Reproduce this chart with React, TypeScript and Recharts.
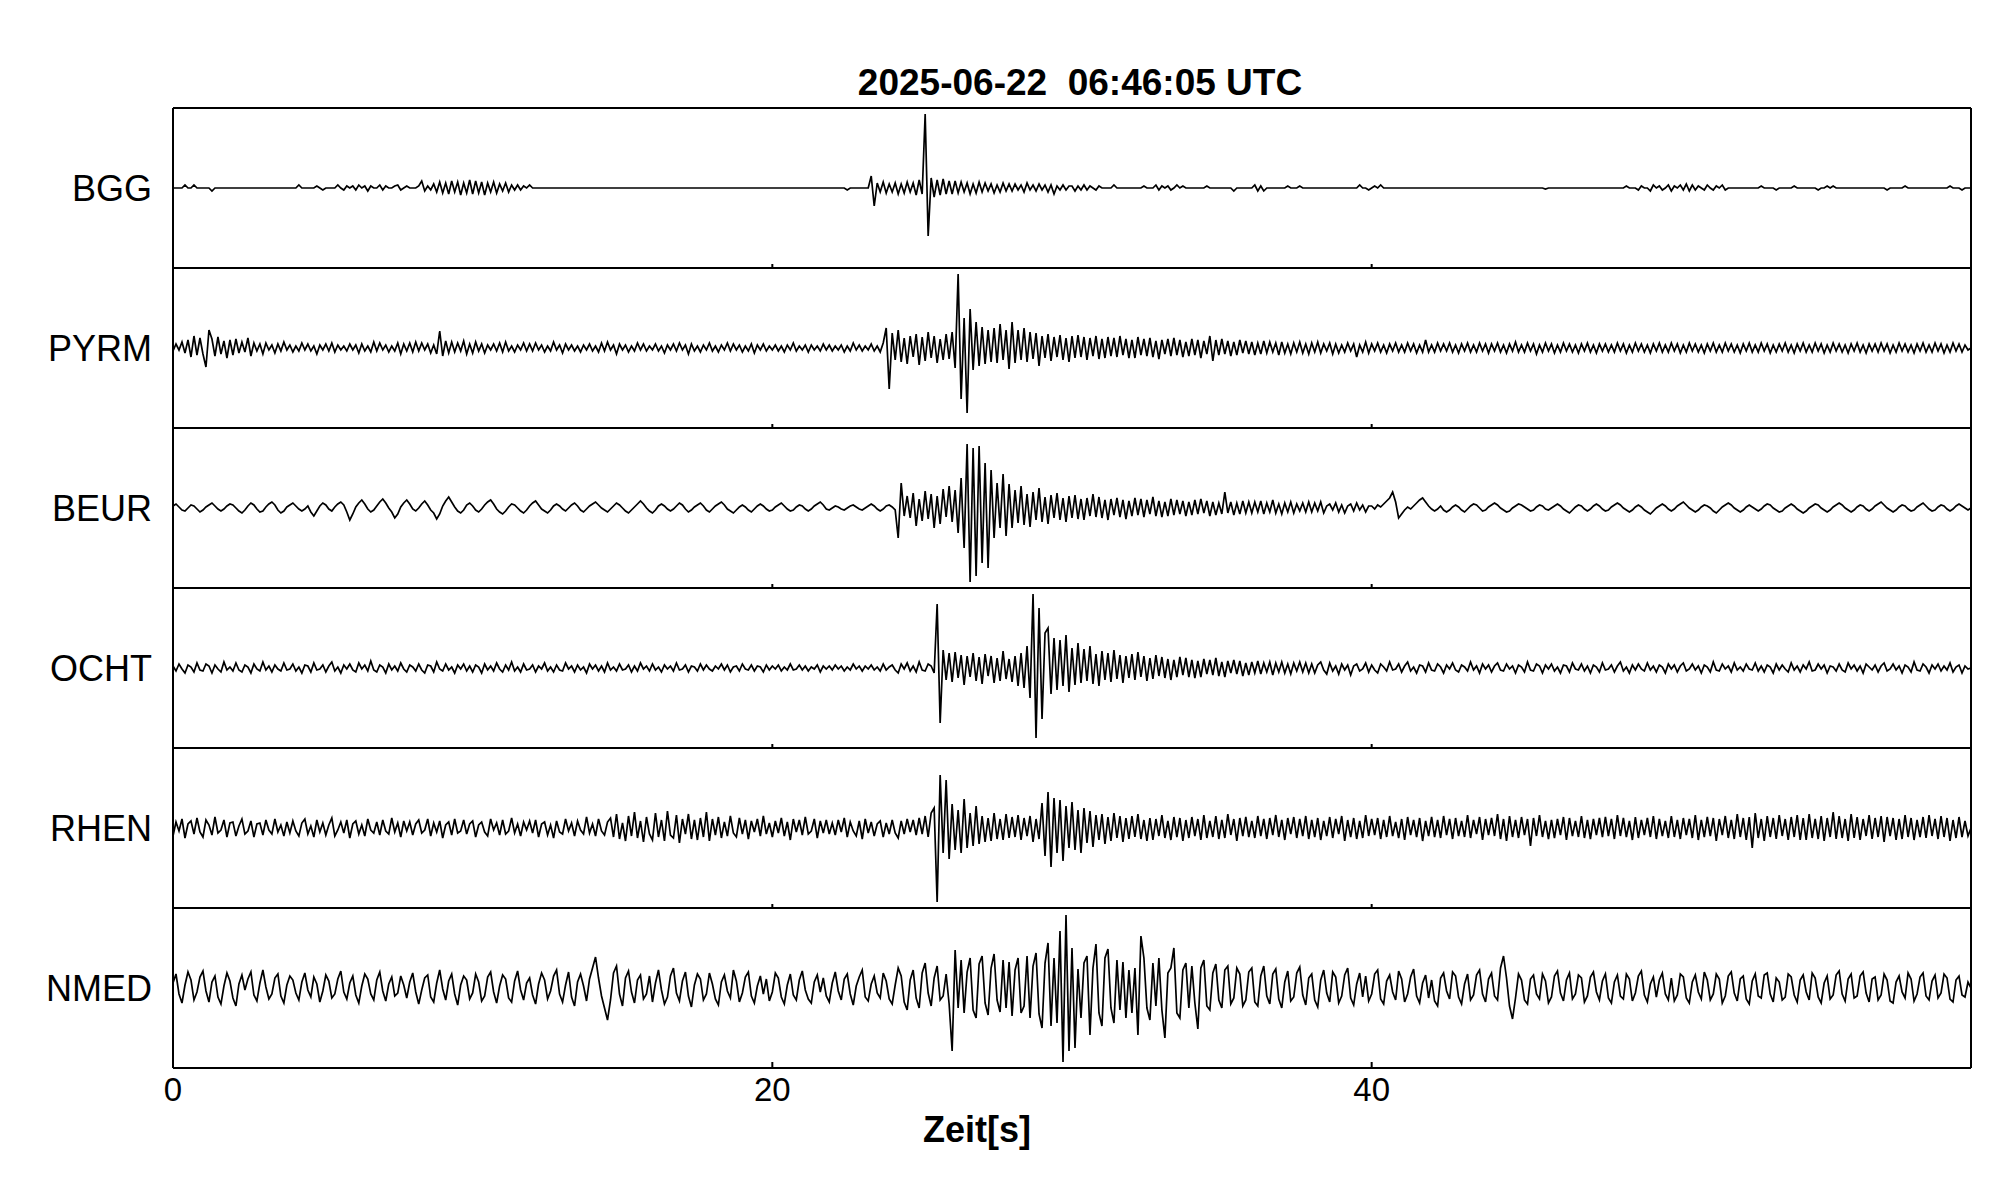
import React from 'react';
import { LineChart, Line, XAxis, YAxis, ReferenceLine } from 'recharts';

const TITLE = '2025-06-22  06:46:05 UTC';
const X_LABEL = 'Zeit[s]';
const STATIONS = ['BGG', 'PYRM', 'BEUR', 'OCHT', 'RHEN', 'NMED'];
const X_TICKS = [0, 20, 40];
const PANEL_TICKS = [20, 40];
const SAMPLE_INTERVAL_S = 0.1;

// Amplitudes (approx. pixels of deflection, up positive), one sample every 0.1 s from 0 to 60 s
const BGG = [
  0,0,0,0,3,0,0,3,0,0,0,0,0,-3,0,0,0,0,0,0,
  0,0,0,0,0,0,0,0,0,0,0,0,0,0,0,0,0,0,0,0,
  0,0,3,0,0,0,0,0,2,0,-2,0,0,0,0,3,0,-2,2,0,
  2,-2,3,0,2,-3,2,0,0,3,-2,2,0,0,2,3,-2,0,2,0,
  0,0,2,7,-3,2,-2,4,-4,6,-5,5,-6,7,-4,6,-7,5,-5,8,
  -6,7,-5,6,-7,5,-4,6,-5,4,-3,5,-4,3,-2,3,-2,2,0,3,
  0,0,0,0,0,0,0,0,0,0,0,0,0,0,0,0,0,0,0,0,
  0,0,0,0,0,0,0,0,0,0,0,0,0,0,0,0,0,0,0,0,
  0,0,0,0,0,0,0,0,0,0,0,0,0,0,0,0,0,0,0,0,
  0,0,0,0,0,0,0,0,0,0,0,0,0,0,0,0,0,0,0,0,
  0,0,0,0,0,0,0,0,0,0,0,0,0,0,0,0,0,0,0,0,
  0,0,0,0,0,-2,0,0,0,0,0,0,0,12,-18,5,-4,6,-5,4,
  -4,5,-6,4,-5,6,-4,5,-7,8,-6,74,-48,10,-9,8,-7,9,-6,7,
  -6,7,-5,6,-4,5,-6,4,-5,6,-4,5,-3,4,-5,3,-4,5,-3,4,
  -3,4,-2,3,-4,5,-2,3,-3,4,-2,3,-4,3,-6,2,-2,3,-2,2,
  2,-3,2,-2,3,-2,2,0,-2,2,0,0,0,0,3,0,0,0,0,0,
  0,0,0,0,2,0,0,0,3,-2,2,0,2,-2,0,3,0,2,0,0,
  0,0,0,0,0,2,0,0,0,0,0,0,0,0,-3,0,0,0,0,0,
  0,3,-3,2,-3,0,0,0,0,0,0,0,2,0,0,0,2,0,0,0,
  0,0,0,0,0,0,0,0,0,0,0,0,0,0,0,0,3,0,0,-2,
  0,2,0,3,0,0,0,0,0,0,0,0,0,0,0,0,0,0,0,0,
  0,0,0,0,0,0,0,0,0,0,0,0,0,0,0,0,0,0,0,0,
  0,0,0,0,0,0,0,0,0,0,0,0,0,0,0,0,0,0,-1,0,
  0,0,0,0,0,0,0,0,0,0,0,0,0,0,0,0,0,0,0,0,
  0,0,0,0,0,2,0,0,0,-2,2,0,0,-3,3,0,2,-2,0,3,
  -3,2,0,3,-2,4,-3,3,-2,2,0,-2,3,0,-2,2,0,3,-2,0,
  0,0,0,0,0,0,0,0,0,0,2,0,0,0,0,-2,0,0,0,0,
  0,2,0,0,0,0,0,0,0,-2,0,0,2,0,2,0,0,0,0,0,
  0,0,0,0,0,0,0,0,0,0,0,0,-2,0,0,0,0,0,2,0,
  0,0,0,0,0,0,0,0,0,0,0,0,0,2,0,0,0,-2,0,0,
  0,
];

const PYRM = [
  -3,4,-2,6,-5,8,-9,12,-7,10,-6,-19,18,9,-8,11,-6,7,-10,8,
  -7,9,-5,6,-4,10,-8,5,-3,4,-6,5,-2,3,-5,4,-3,6,-2,3,
  -4,2,-3,5,-2,4,-3,2,-6,3,-2,4,-3,5,-4,3,-2,2,-3,4,
  -2,3,-5,4,-3,2,-4,6,-3,5,-2,3,-4,2,-3,5,-6,4,-3,5,
  -4,6,-3,5,-2,4,-5,3,-6,17,-8,7,-5,6,-4,5,-3,7,-6,4,
  -5,6,-3,4,-5,3,-2,4,-3,5,-4,6,-3,2,-4,3,-2,5,-3,4,
  -3,5,-2,3,-4,2,-3,6,-2,3,-5,4,-2,3,-3,2,-4,3,-2,4,
  -3,2,-4,5,-3,6,-2,3,-6,4,-2,3,-4,2,-3,5,-2,4,-3,2,
  -2,4,-3,2,-5,3,-2,4,-3,5,-2,3,-6,4,-3,2,-4,3,-2,5,
  -3,2,-4,3,-2,5,-3,4,-2,3,-4,2,-3,4,-5,3,-2,4,-3,2,
  -2,3,-3,2,-4,3,-2,5,-3,2,-2,3,-4,3,-2,2,-3,4,-2,3,
  -3,2,-2,3,-4,2,-3,5,-2,3,-3,2,-2,4,-3,2,-4,5,20,-41,
  15,-12,18,-14,10,-16,12,-9,14,-17,11,-13,16,-10,12,-15,9,-12,14,-11,
  16,-20,74,-51,30,-65,39,-22,26,-18,21,-16,18,-14,20,-15,24,-12,18,-21,
  26,-15,18,-12,20,-14,16,-11,15,-18,12,-10,14,-13,11,-9,13,-12,10,-14,
  12,-10,13,-9,11,-12,10,-8,12,-11,9,-10,11,-8,10,-9,12,-7,9,-10,
  8,-10,11,-7,9,-8,10,-9,7,-11,8,-6,9,-8,10,-7,8,-9,6,-8,
  9,-7,8,-10,7,-6,12,-13,8,-7,9,-6,7,-8,6,-7,8,-5,7,-6,
  6,-7,5,-6,7,-5,6,-4,5,-7,6,-5,4,-6,5,-4,6,-5,4,-6,
  5,-4,6,-5,4,-3,5,-6,4,-5,3,-4,5,-3,4,-9,3,-4,6,-5,
  4,-3,5,-4,3,-5,4,-3,5,-4,3,-4,5,-3,4,-5,3,-4,8,-4,
  3,-4,5,-3,4,-3,5,-4,3,-5,4,-3,5,-4,3,-4,5,-3,4,-5,
  4,-3,5,-4,3,-5,4,-3,6,-4,3,-4,5,-3,4,-6,3,-4,5,-3,
  4,-5,3,-4,5,-3,4,-4,3,-5,4,-3,5,-4,3,-5,4,-3,4,-4,
  3,-4,5,-3,4,-5,3,-4,5,-3,4,-4,3,-5,4,-3,5,-4,3,-4,
  5,-3,4,-5,3,-4,5,-3,4,-4,3,-5,4,-3,5,-4,3,-4,5,-3,
  4,-4,3,-5,4,-3,5,-4,3,-4,5,-3,4,-5,3,-4,4,-3,5,-4,
  3,-5,4,-3,5,-4,3,-4,5,-3,4,-5,3,-4,5,-3,4,-4,3,-5,
  4,-3,5,-4,3,-5,4,-3,4,-4,5,-3,4,-5,3,-4,5,-3,4,-4,
  3,-5,4,-3,5,-4,3,-4,5,-3,4,-5,3,-4,5,-3,4,-4,3,-2,
  0,
];

const BEUR = [
  2,4,1,-2,-3,0,3,2,-1,-4,-2,1,3,5,2,-1,-3,-1,2,4,
  3,0,-3,-5,-2,2,5,3,-1,-4,-3,1,4,6,3,-2,-5,-3,1,3,
  5,2,-1,-3,-1,2,-4,-8,-3,2,5,3,-1,-3,1,4,6,3,-4,-12,
  -6,1,5,8,4,-1,-4,-2,2,6,9,5,0,-4,-10,-6,1,5,8,4,
  -1,-3,0,4,7,3,-2,-5,-11,-6,2,7,11,6,1,-3,-5,-2,3,5,
  2,-2,-4,-1,3,6,8,4,-1,-4,-6,-3,1,4,3,0,-3,-5,-2,2,
  5,7,3,-1,-3,-5,-2,2,4,2,-1,-3,0,3,5,2,-2,-4,-1,2,
  4,6,3,0,-2,-4,-1,2,5,3,0,-3,-5,-2,1,4,7,4,0,-3,
  -5,-2,2,4,2,-1,-3,-1,2,5,3,-1,-4,-2,1,3,5,2,-2,-4,
  -1,2,4,6,3,-1,-3,-5,-2,1,3,1,-2,-4,-1,2,4,2,-1,-3,
  -2,1,3,5,2,-1,-3,-2,1,3,2,-1,-3,-1,2,4,6,3,-1,-2,
  0,2,1,-1,-2,0,2,3,1,-1,-2,0,2,4,2,-1,-3,-1,2,3,
  1,-2,-30,25,-8,12,-10,15,-18,9,-13,17,-11,14,-20,12,-16,19,-9,22,
  -14,18,-25,30,-40,64,-74,60,-68,62,-55,45,-60,38,-30,25,-20,34,-28,24,
  -20,18,-15,22,-17,14,-19,16,-12,20,-14,11,-16,13,-10,15,-12,10,-14,12,
  -10,13,-11,9,-12,10,-8,14,-9,11,-10,8,-12,9,-7,10,-9,8,-11,7,
  -8,10,-7,9,-9,8,-6,11,-8,7,-9,6,-8,9,-7,8,-6,7,-8,6,
  -7,8,-6,9,-5,7,-8,6,-7,5,-6,16,-5,6,-7,5,-6,7,-5,6,
  -5,6,-4,7,-6,5,-4,8,-5,4,-6,5,-4,6,-5,4,-3,5,-4,6,
  -4,5,-3,6,-5,2,4,-2,5,-4,3,-5,2,4,-3,5,-2,3,-4,2,
  2,-1,3,1,4,7,10,16,6,-10,-6,-2,1,-1,2,5,8,10,6,2,
  -1,-3,-1,2,-2,-4,-2,1,3,1,-2,-4,-1,2,4,3,0,-3,-2,1,
  3,5,3,0,-2,-4,-3,0,2,4,3,1,-1,-3,-2,1,3,2,-1,-2,
  0,2,4,2,-1,-3,-5,-2,1,3,2,-1,-3,-1,2,4,2,-1,-3,-2,
  1,3,5,3,0,-2,-4,-2,1,3,1,-2,-4,-6,-3,0,2,4,2,-1,
  -3,-1,2,4,6,3,0,-2,-4,-2,1,3,2,0,-3,-5,-2,1,3,5,
  3,0,-2,-4,-2,1,3,1,-1,-3,-1,2,4,3,0,-2,-4,-3,0,2,
  4,2,-1,-3,-5,-3,0,2,4,3,0,-2,-4,-2,1,3,5,3,0,-2,
  -4,-2,1,3,2,-1,-3,-1,2,4,6,3,0,-2,-4,-2,1,3,2,-1,
  -3,-2,1,3,5,2,-1,-3,-2,1,3,2,-1,-3,-1,2,4,2,0,-2,
  0,
];

const OCHT = [
  2,-3,4,-1,-5,3,1,-4,5,-2,-3,4,2,-5,3,-1,-4,6,-2,1,
  -3,5,-2,-4,3,1,-5,4,-1,-3,6,-2,2,-4,3,-1,-3,5,-2,-1,
  4,-3,1,-5,3,2,-4,5,-2,-1,3,-4,2,6,-3,1,-5,3,-1,4,
  -2,-4,5,-1,3,-3,7,-2,-4,3,1,-5,4,-2,2,-3,5,-1,-4,3,
  1,-3,4,-2,-5,3,2,-4,6,-1,-3,4,-2,1,-5,3,-1,4,-3,2,
  -4,3,1,-5,4,-2,2,-3,5,-1,-4,3,-2,6,-3,1,-4,4,-2,-1,
  3,-4,2,-1,5,-3,1,-4,3,-2,-3,5,-1,2,-4,3,-2,1,-5,4,
  -1,3,-3,2,-4,5,-2,1,-3,4,-2,-1,3,-4,2,-3,5,-1,2,-3,
  4,-2,1,-4,3,-1,2,-3,5,-2,-1,3,-4,2,1,-3,4,-2,3,-1,
  -3,2,-1,4,-2,3,-4,1,2,-3,4,-1,-2,3,-3,2,1,-4,3,-2,
  2,-1,3,-3,1,-2,4,-2,-1,3,-2,2,-3,1,-1,3,-4,2,-1,2,
  -2,3,-1,2,-3,1,-2,4,-1,2,-3,2,-1,3,-2,1,-3,4,-2,1,
  3,-2,-5,4,-1,5,-3,2,-4,6,-2,-3,4,2,-5,64,-55,18,-12,15,
  -14,16,-10,13,-17,12,-9,15,-13,11,-16,14,-8,12,-15,10,-13,17,-11,9,
  -14,12,-18,15,-20,22,-30,74,-70,60,-51,35,40,-26,30,-22,28,-18,33,-24,
  20,-17,25,-15,19,-13,22,-16,14,-18,17,-12,15,-14,18,-11,13,-15,12,-10,
  14,-12,16,-9,12,-13,10,-11,13,-8,11,-10,9,-12,8,-9,11,-7,10,-9,
  8,-10,7,-9,9,-6,8,-7,10,-8,6,-9,7,-5,8,-6,7,-8,5,-7,
  6,-5,7,-6,5,-4,6,-7,5,-4,6,-5,4,-6,5,-3,6,-4,5,-5,
  4,-5,3,6,-2,-6,5,-3,2,-6,4,-2,3,-7,2,4,-3,-1,5,-4,
  3,-2,-5,4,1,-3,6,-2,-1,4,-4,2,6,-3,1,-5,3,2,-4,5,
  -2,-3,4,1,-5,3,-1,5,-2,-4,3,1,-3,6,-2,2,-5,4,-1,3,
  -4,2,5,-2,-3,4,-1,2,-5,3,1,-4,6,-2,-3,4,2,-5,3,-1,
  4,-3,1,-5,3,2,-4,5,-1,-2,4,-3,2,-5,3,1,-4,5,-2,-1,
  3,-4,2,6,-3,1,-5,3,-2,4,-1,-3,5,-2,2,-4,3,1,-5,4,
  -1,3,-4,2,5,-3,-1,4,-2,2,-5,3,1,-4,6,-2,-3,4,-1,2,
  -4,5,-2,1,-3,4,-1,-2,5,-3,2,-4,3,1,-5,4,-2,3,-1,-4,
  5,-2,2,-4,3,-1,6,-3,-2,4,-1,3,-5,2,1,-3,4,-2,-4,5,
  -1,3,-3,2,-5,4,1,-2,3,-4,2,5,-3,-1,4,-2,2,-5,3,1,
  -4,6,-2,-3,4,1,-5,3,-1,4,-3,2,-2,5,-4,1,3,-5,2,-1,
  0,
];

const RHEN = [
  -8,6,-3,9,-10,4,7,-6,10,-4,-9,8,3,-7,11,-5,-2,8,-9,5,
  6,-8,2,9,-6,-3,7,-9,4,5,-7,8,-2,-6,9,-4,3,-8,6,-5,
  7,-3,-8,5,9,-6,2,-9,8,-4,5,-7,3,10,-8,-2,6,-5,8,-10,
  4,7,-6,3,-8,9,-2,-5,6,-7,8,-3,-6,10,-4,5,-9,7,-3,6,
  -7,4,8,-5,-2,9,-8,5,-4,7,-10,3,6,-7,9,-5,-3,8,-6,4,
  7,-9,3,6,-4,-8,9,-2,5,-7,8,-6,-3,10,-5,4,-8,6,-2,7,
  -5,8,-9,4,6,-7,3,-10,7,-4,-6,9,-3,5,-8,7,-2,-6,11,-5,
  4,-8,9,-3,-7,6,10,-9,14,-11,5,-13,12,-8,16,-10,7,-14,11,-6,
  -12,15,-9,8,-13,17,-7,-10,13,-15,9,-6,14,-11,8,-12,10,-9,16,-13,
  9,-7,11,-10,6,-8,12,-5,-9,10,-6,8,-11,7,-4,9,-8,12,-6,5,
  -9,7,-5,10,-8,6,-12,9,-4,8,-7,11,-6,-3,9,-10,7,-5,8,-6,
  5,-7,8,-4,10,-9,6,-3,-8,7,-11,9,-5,6,-8,4,7,-9,5,-6,
  8,-5,-10,7,-6,9,-4,8,-7,10,-6,12,-9,15,20,-74,53,-25,48,-31,
  24,-22,18,-25,29,-20,15,-18,22,-16,12,-14,10,-13,15,-11,9,-12,14,-10,
  11,-9,13,-12,10,-8,12,-14,9,-11,25,-28,36,-39,30,-25,28,-33,22,-20,
  26,-22,18,-25,20,-15,17,-19,13,-12,14,-16,11,-13,15,-10,12,-14,10,-11,
  12,-9,14,-11,8,-13,10,-12,9,-8,13,-10,7,-12,11,-9,10,-13,8,-10,
  11,-8,9,-12,13,-10,7,-9,12,-11,8,-10,14,-7,9,-13,10,-8,11,-9,
  7,-10,12,-8,9,-11,10,-7,13,-9,8,-12,10,-6,11,-10,9,-8,12,-11,
  8,-9,10,-12,7,-8,11,-10,9,-6,12,-13,8,-9,10,-11,7,-10,13,-8,
  9,-7,10,-11,8,-9,12,-8,6,-10,9,-12,11,-7,8,-9,10,-13,7,-8,
  11,-9,8,-10,12,-7,9,-11,10,-8,7,-9,13,-10,8,-6,11,-12,9,-7,
  10,-8,14,-11,9,-13,12,-9,8,-10,11,-7,9,-18,10,-8,13,-9,7,-11,
  8,-10,9,-7,11,-12,10,-8,7,-9,12,-10,8,-11,9,-7,10,-9,11,-8,
  9,-11,13,-8,10,-9,7,-12,11,-10,8,-7,10,-9,12,-11,9,-8,7,-10,
  12,-9,8,-11,10,-7,9,-10,13,-12,8,-9,11,-8,10,-13,9,-7,12,-10,
  8,-11,14,-9,10,-12,11,-20,15,-10,9,-13,12,-9,10,-11,13,-8,9,-12,
  11,-9,13,-12,10,-12,14,-10,9,-11,12,-13,10,-9,16,-11,12,-10,9,-13,
  14,-10,11,-12,9,-8,13,-11,10,-9,12,-14,11,-8,10,-12,9,-11,13,-9,
  10,-12,8,-9,11,-10,13,-8,9,-11,12,-9,10,-13,8,-10,11,-9,7,-8,
  0,
];

const NMED = [
  5,14,-6,-15,3,16,8,-12,-4,11,17,-3,-14,6,12,-9,-16,2,15,7,
  -10,-18,4,13,-2,9,16,-7,-13,5,18,1,-11,-6,10,14,-8,-15,3,12,
  8,-5,-12,6,15,-2,-9,11,4,-14,-3,13,7,-10,-6,9,17,-4,-11,5,
  12,-7,-15,2,14,9,-6,-12,8,16,-3,-13,4,11,-8,-5,12,3,-10,6,
  15,-4,-16,-2,10,13,-9,-14,5,18,-1,-12,7,14,-6,-17,3,12,8,-11,
  -5,14,6,-13,-8,11,16,-4,-15,2,13,9,-10,-14,7,17,-2,-12,5,10,
  -7,-16,4,15,8,-11,-3,12,18,-6,-14,3,16,-9,-18,6,14,2,-13,9,
  20,31,10,-8,-20,-32,-12,15,22,-6,-18,10,17,-4,-15,8,13,-11,-6,12,
  -14,5,18,-2,-16,-9,12,20,-5,-13,7,16,-8,-19,3,14,9,-12,-6,15,
  4,-11,-17,6,13,-3,-10,18,7,-14,-5,11,16,-8,-15,2,12,-6,9,-13,
  -4,15,10,-9,-16,3,14,-7,-12,8,17,-2,-11,-15,6,13,-4,10,-8,-14,
  5,16,-3,-12,9,14,-6,-17,2,11,18,-9,-13,4,12,-5,-10,15,7,-11,
  -16,3,20,12,-14,-22,8,18,-10,-20,15,25,-5,-18,10,22,-12,-8,14,-16,
  -63,38,-20,28,-25,16,30,-22,-30,24,32,-15,-27,20,34,-12,-24,28,-20,26,
  -28,18,30,-25,-18,32,-30,22,35,-26,-40,25,45,-38,30,-35,57,-74,73,-63,
  40,-60,19,-30,25,32,-47,20,44,-25,-38,30,39,-20,-35,28,-22,26,-30,18,
  -25,20,-47,52,30,-20,-32,25,-18,30,-22,-50,15,20,40,-25,-30,18,25,-20,
  22,-15,-41,20,28,-18,-22,15,24,-12,-20,18,22,-16,-10,20,14,-18,-12,16,
  20,-14,-18,12,22,-8,-16,14,19,-11,-20,6,17,-13,-9,15,21,-7,-17,10,
  14,-12,-19,8,18,-5,-14,16,11,-15,-8,13,20,-10,-17,4,15,-9,12,-13,
  -6,14,18,-11,-16,7,13,-4,-12,17,9,-14,-6,11,19,-8,-15,5,13,-10,
  8,-13,-18,10,15,-3,-11,16,12,-9,-16,4,14,-12,-7,13,18,-6,-14,9,
  15,-8,-12,20,32,10,-18,-31,-10,14,8,-12,-16,9,13,-6,-11,14,7,-15,
  -9,12,17,-5,-13,8,15,-11,-6,13,10,-14,-8,11,16,-4,-12,7,14,-10,
  -15,6,13,-8,-11,14,9,-13,-5,12,17,-7,-14,4,11,-9,8,15,-6,-12,
  10,-13,-7,14,11,-10,-15,6,13,-4,-11,16,8,-12,-6,14,9,-15,-8,12,
  16,-5,-13,9,12,-11,-16,7,14,-8,-10,13,15,-6,-14,10,6,-12,-9,14,
  11,-7,-14,8,13,-4,-12,15,10,-9,-15,5,12,-11,-7,13,17,-6,-13,9,
  14,-10,-8,12,16,-5,-14,9,11,-12,-7,14,8,-13,-15,6,12,-4,-10,15,
  9,-13,-6,11,15,-8,-12,7,13,-10,-5,14,10,-11,-14,8,12,-7,-9,6,
  0,
];

const TRACES: Record<string, number[]> = { BGG, PYRM, BEUR, OCHT, RHEN, NMED };

const PANEL = 160; // amplitude units per panel
const N = STATIONS.length;
const BASE = STATIONS[N - 1]; // bottom trace's axis also carries the frame and station names

const data = BGG.map((_, i) => {
  const row: Record<string, number> = { t: Math.round(i * SAMPLE_INTERVAL_S * 1000) / 1000 };
  STATIONS.forEach((s) => {
    row[s] = TRACES[s][i];
  });
  return row;
});

const FONT = '"Liberation Sans", Arial, Helvetica, sans-serif';

// panel k (0 = top) is centred at value PANEL*(N-1-k) on the bottom trace's axis
const centreOf = (k: number) => PANEL * (N - 1 - k);
const borders = Array.from({ length: N + 1 }, (_, k) => -PANEL / 2 + PANEL * k);

const StationTick = (props: any) => {
  const { x, y, payload } = props;
  const name = STATIONS[N - 1 - Math.round(payload.value / PANEL)];
  return (
    <text x={x} y={y} textAnchor="end" dominantBaseline="central" fontSize={36} fill="#000" fontFamily={FONT}>
      {name}
    </text>
  );
};

export default function App() {
  return (
    <div style={{ position: 'relative', width: 1989, height: 1186, background: '#fff', fontFamily: FONT }}>
      <div
        style={{
          position: 'absolute', left: 572, top: 54, width: 1000, textAlign: 'center',
          fontSize: 37, lineHeight: '42px', fontWeight: 'bold', whiteSpace: 'pre', color: '#000',
        }}
      >
        {TITLE}
      </div>
      <div
        style={{
          position: 'absolute', left: 769, top: 1102, width: 400, textAlign: 'center',
          fontSize: 36, lineHeight: '40px', fontWeight: 'bold', color: '#000',
        }}
      >
        {X_LABEL}
      </div>
      <div style={{ position: 'absolute', left: 0, top: 0 }}>
        <LineChart
          width={1989}
          height={1186}
          data={data}
          margin={{ top: 100, right: 26, bottom: 66, left: 0 }}
        >
          <XAxis
            dataKey="t"
            type="number"
            domain={[0, 60]}
            ticks={X_TICKS}
            interval={0}
            tickLine={false}
            axisLine={false}
            tickSize={0}
            tickMargin={10}
            height={60}
            tick={{ fontSize: 33, fill: '#000', fontFamily: FONT }}
          />
          <YAxis
            yAxisId={BASE}
            orientation="left"
            type="number"
            domain={[-PANEL / 2, PANEL / 2 + PANEL * (N - 1)]}
            allowDataOverflow
            ticks={STATIONS.map((_, j) => centreOf(j))}
            interval={0}
            width={165}
            axisLine={false}
            tickLine={false}
            tickSize={0}
            tickMargin={21}
            tick={<StationTick />}
          />
          {STATIONS.slice(0, N - 1).map((s, k) => (
            <YAxis
              key={s}
              yAxisId={s}
              type="number"
              domain={[-(PANEL / 2 + PANEL * (N - 1 - k)), PANEL / 2 + PANEL * k]}
              allowDataOverflow
              width={0}
              hide
            />
          ))}
          {STATIONS.map((s) => (
            <Line
              key={s}
              yAxisId={s}
              dataKey={s}
              type="linear"
              stroke="#000"
              strokeWidth={1.7}
              dot={false}
              activeDot={false}
              isAnimationActive={false}
            />
          ))}
          {borders.map((y) => (
            <ReferenceLine key={'h' + y} yAxisId={BASE} y={y} stroke="#000" strokeWidth={2} ifOverflow="visible" />
          ))}
          <ReferenceLine yAxisId={BASE} x={0} stroke="#000" strokeWidth={2} ifOverflow="visible" />
          <ReferenceLine yAxisId={BASE} x={60} stroke="#000" strokeWidth={2} ifOverflow="visible" />
          {borders.slice(0, N).map((y, k) =>
            PANEL_TICKS.map((x) => (
              <ReferenceLine
                key={'t' + y + '_' + x}
                yAxisId={BASE}
                ifOverflow="visible"
                segment={[{ x, y }, { x, y: y + (k === 0 ? 6 : 4) }]}
                stroke="#000"
                strokeWidth={2}
              />
            ))
          )}
        </LineChart>
      </div>
    </div>
  );
}
